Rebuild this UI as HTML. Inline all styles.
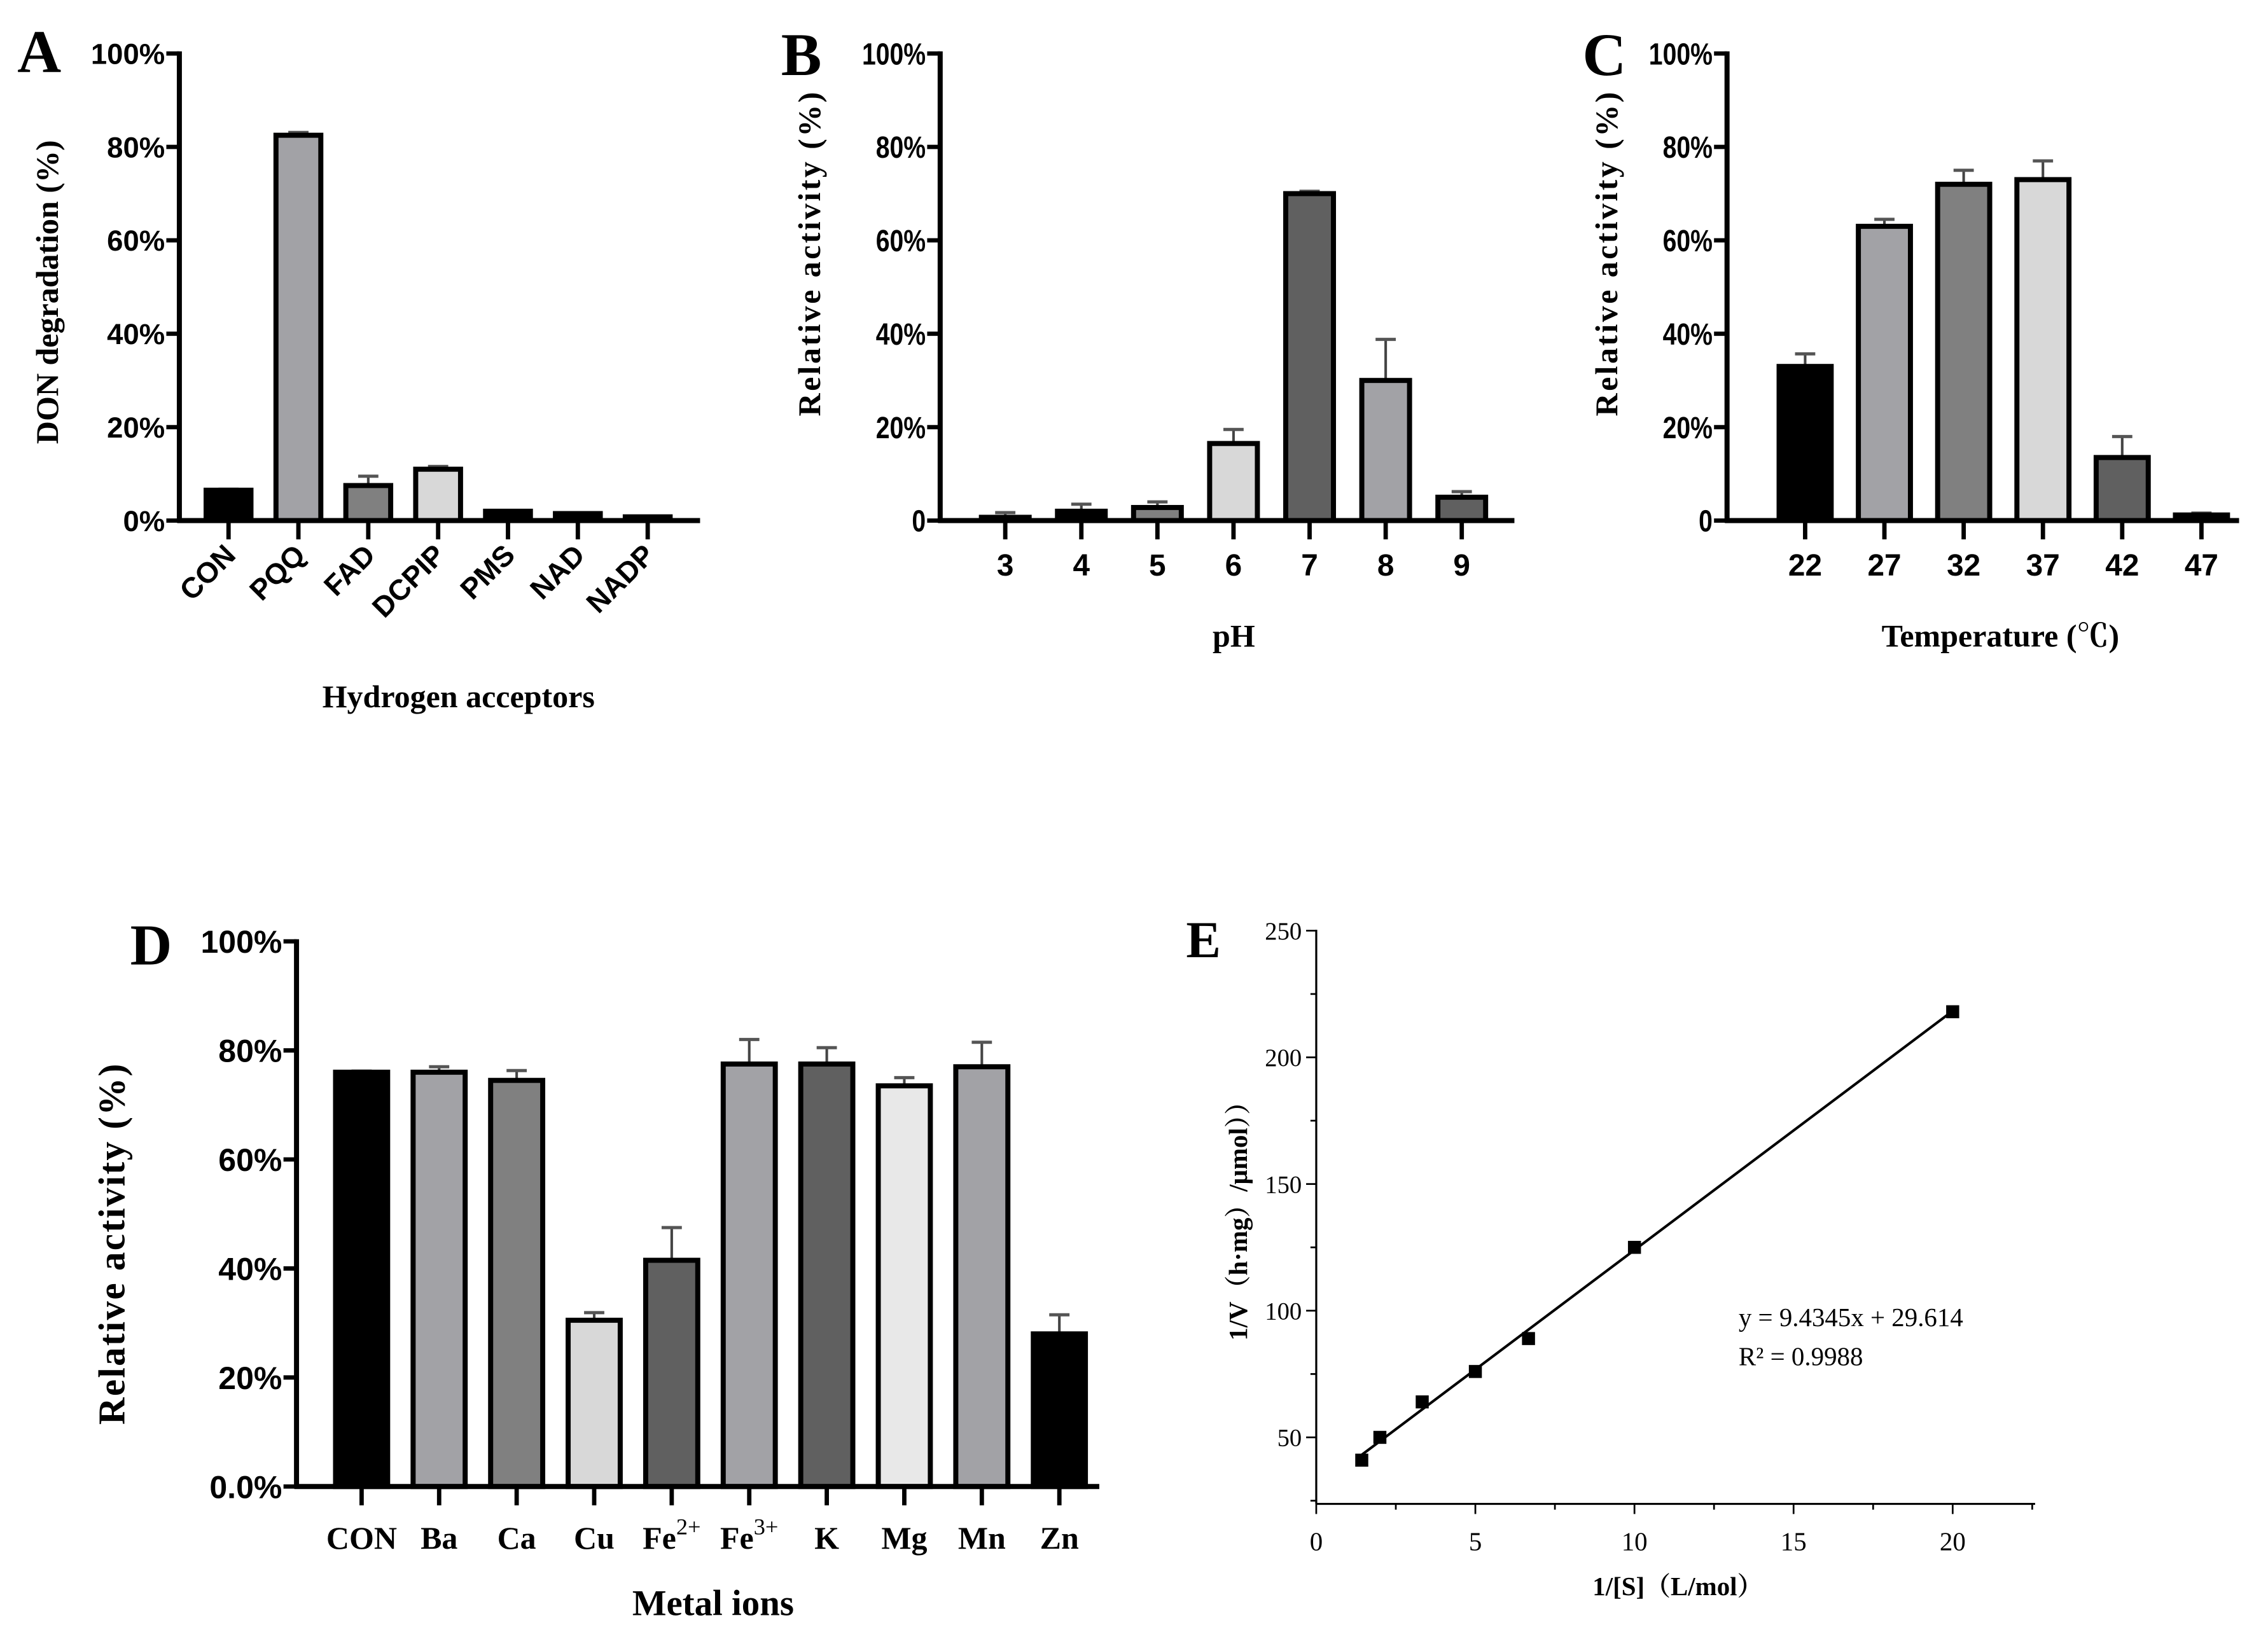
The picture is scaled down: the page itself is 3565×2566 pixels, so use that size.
<!DOCTYPE html>
<html><head><meta charset="utf-8"><style>
html,body{margin:0;padding:0;background:#fff}
svg{display:block}
.tk{font-family:"Liberation Sans",Arial,sans-serif;font-weight:bold}
.sr{font-family:"Liberation Serif","Noto Serif CJK SC",serif}
</style></head><body>
<svg id="fig" xmlns="http://www.w3.org/2000/svg" width="3565" height="2566" viewBox="0 0 1568 1128.6">
<rect width="1568" height="1128.6" fill="#fff"/>
<g id="root"></g>
</svg>
<script>
// Panel A data
const aCats = ["CON","PQQ","FAD","DCPIP","PMS","NAD","NADP"];
const aVals = [6.5, 82.5, 7.5, 11, 2, 1.5, 0.8];
const aErr  = [0.2, 0.6, 2, 0.6, 0, 0, 0];
// Panel B data
const bCats = ["3","4","5","6","7","8","9"];
const bVals = [0.7, 2, 2.8, 16.5, 70, 30, 5];
const bErr  = [1, 1.5, 1.2, 3, 0.5, 8.8, 1.2];
// Panel C data
const cCats = ["22","27","32","37","42","47"];
const cVals = [33, 63, 72, 73, 13.5, 1.2];
const cErr  = [2.7, 1.5, 3, 4, 4.5, 0.4];
// Panel D data
const dCats = ["CON","Ba","Ca","Cu","Fe2+","Fe3+","K","Mg","Mn","Zn"];
const dVals = [76, 76, 74.5, 30.5, 41.5, 77.5, 77.5, 73.5, 77, 28];
const dErr  = [0.2, 1, 1.8, 1.4, 6, 4.5, 3, 1.5, 4.5, 3.5];
// Panel E data
const eX = [1.43, 2, 3.33, 5, 6.67, 10, 20];
const eY = [41, 50, 64, 76, 89, 125, 218];
const eSlope = [9.4345];
const eIntercept = [29.614];
const eXTicks = [0, 5, 10, 15, 20];
const eYTicks = [50, 100, 150, 200, 250];
const pctTicks = [0, 20, 40, 60, 80, 100];

const NS = "http://www.w3.org/2000/svg";
const root = document.getElementById("root");
function mk(tag, attrs, parent, txt){
  const e = document.createElementNS(NS, tag);
  for (const k in attrs) e.setAttribute(k, attrs[k]);
  if (txt !== undefined) e.textContent = txt;
  (parent || root).appendChild(e);
  return e;
}

function barPanel(o){
  const g = mk("g", {});
  
  
  const y = v => o.y0 - (v/100)*(o.y0 - o.y100);
  const x = i => o.x0c + i*o.step;
  o.vals.forEach((v,i)=>{
    const top = y(v), hw = o.bw/2;
    const eb = mk("line",{x1:x(i),x2:x(i),y1:top,y2:y(v+o.err[i]),stroke:"#444","stroke-width":1.8},g);
    
    
    if (o.err[i] > 0){
      const cap = mk("line",{x1:x(i)-7,x2:x(i)+7,y1:y(v+o.err[i]),y2:y(v+o.err[i]),stroke:"#555","stroke-width":2.2},g);
      
      
    }
    const r = mk("rect",{x:x(i)-hw,y:top,width:o.bw,height:Math.max(o.y0-top,0.5),fill:o.colors[i],stroke:"#000","stroke-width":3.5},g);
    
    
    mk("line",{x1:x(i),x2:x(i),y1:o.y0,y2:o.y0+13,stroke:"#000","stroke-width":3},g);
  });
  const ya = mk("line",{x1:o.ax,x2:o.ax,y1:o.y100-1.5,y2:o.y0+1.5,stroke:"#000","stroke-width":3.5},g);
  
  
  const xa = mk("line",{x1:o.ax-1.5,x2:o.xEnd,y1:o.y0,y2:o.y0,stroke:"#000","stroke-width":3.5},g);
  
  
  pctTicks.forEach(t=>{
    mk("line",{x1:o.ax-9,x2:o.ax,y1:y(t),y2:y(t),stroke:"#000","stroke-width":3},g);
    const lbl = (t===0 && o.zeroLbl) ? o.zeroLbl : t + "%";
    const tt = mk("text",{x:o.ax-10,y:y(t)+o.tfs*0.36,"text-anchor":"end","font-size":o.tfs,class:"tk"},g,lbl);
    if (o.condensed) { tt.setAttribute("transform",`translate(${o.ax-10},0) scale(0.82,1) translate(${-(o.ax-10)},0)`); }
    
    
  });
  return {g, x, y};
}

// ---- Panel A
(function(){
  const P = barPanel({name:"panel-a-chart",cats:aCats,vals:aVals,err:aErr,
    colors:["#000","#a2a2a6","#808080","#d8d8d8","#000","#000","#000"],
    ax:124,y0:360,y100:37,x0c:158,step:48.3,bw:31,xEnd:484,tfs:20});
  aCats.forEach((c,i)=>{
    const t = mk("text",{x:P.x(i)+6,y:385,"text-anchor":"end","font-size":20,class:"tk",
      transform:`rotate(-45 ${P.x(i)+6} 385)`},P.g,c);
    
    
  });
  const xt = mk("text",{x:317,y:489,"text-anchor":"middle","font-size":22,"font-weight":"bold",class:"sr"},P.g,"Hydrogen acceptors");
  
  
  const yt = mk("text",{x:0,y:0,"text-anchor":"middle","font-size":22,"font-weight":"bold",class:"sr",transform:"translate(40,202) rotate(-90)"},P.g,"DON degradation (%)");
  
  
  const L = mk("text",{x:12,y:50,"font-size":42,"font-weight":"bold",class:"sr"},P.g,"A");
  
  
})();

// ---- Panel B
(function(){
  const P = barPanel({name:"panel-b-chart",cats:bCats,vals:bVals,err:bErr,
    colors:["#000","#000","#808080","#d8d8d8","#606060","#a2a2a6","#606060"],
    ax:650,y0:360,y100:37,x0c:695,step:52.6,bw:33,xEnd:1047,tfs:21,condensed:true,zeroLbl:"0"});
  bCats.forEach((c,i)=>{
    const t = mk("text",{x:P.x(i),y:398,"text-anchor":"middle","font-size":21,class:"tk"},P.g,c);
    
    
  });
  const xt = mk("text",{x:853,y:447,"text-anchor":"middle","font-size":22,"font-weight":"bold",class:"sr"},P.g,"pH");
  
  
  const yt = mk("text",{x:0,y:0,"text-anchor":"middle","font-size":22,"font-weight":"bold",class:"sr","letter-spacing":"1.5",transform:"translate(567,175) rotate(-90)"},P.g,"Relative activity (%)");
  
  
  const L = mk("text",{x:540,y:52,"font-size":42,"font-weight":"bold",class:"sr"},P.g,"B");
  
  
})();

// ---- Panel C
(function(){
  const P = barPanel({name:"panel-c-chart",cats:cCats,vals:cVals,err:cErr,
    colors:["#000","#a2a2a6","#808080","#d8d8d8","#606060","#000"],
    ax:1194,y0:360,y100:37,x0c:1248,step:54.8,bw:36,xEnd:1548,tfs:21,condensed:true,zeroLbl:"0"});
  cCats.forEach((c,i)=>{
    const t = mk("text",{x:P.x(i),y:398,"text-anchor":"middle","font-size":21,class:"tk"},P.g,c);
    
    
  });
  const xt = mk("text",{x:1383,y:447,"text-anchor":"middle","font-size":22,"font-weight":"bold",class:"sr"},P.g,"Temperature (℃)");
  
  
  const yt = mk("text",{x:0,y:0,"text-anchor":"middle","font-size":22,"font-weight":"bold",class:"sr","letter-spacing":"1.5",transform:"translate(1118,175) rotate(-90)"},P.g,"Relative activity (%)");
  
  
  const L = mk("text",{x:1094,y:52,"font-size":42,"font-weight":"bold",class:"sr"},P.g,"C");
  
  
})();

// ---- Panel D
(function(){
  const P = barPanel({name:"panel-d-chart",cats:dCats,vals:dVals,err:dErr,
    colors:["#000","#a2a2a6","#808080","#d8d8d8","#606060","#a2a2a6","#606060","#e8e8e8","#a2a2a6","#000"],
    ax:205,y0:1028,y100:651,x0c:250,step:53.6,bw:36,xEnd:760,tfs:22,zeroLbl:"0.0%"});
  dCats.forEach((c,i)=>{
    const base = c.replace(/[0-9]\+/,"");
    const sup = c.slice(base.length);
    const t = mk("text",{x:P.x(i),y:1071,"text-anchor":"middle","font-size":22,"font-weight":"bold",class:"sr"},P.g);
    
    
    mk("tspan",{},t,base);
    if (sup) mk("tspan",{dy:-10,"font-size":16,"font-weight":"normal"},t,sup);
  });
  const xt = mk("text",{x:493,y:1117,"text-anchor":"middle","font-size":25,"font-weight":"bold",class:"sr"},P.g,"Metal ions");
  
  
  const yt = mk("text",{x:0,y:0,"text-anchor":"middle","font-size":26,"font-weight":"bold",class:"sr","letter-spacing":"1",transform:"translate(86,860) rotate(-90)"},P.g,"Relative activity (%)");
  
  
  const L = mk("text",{x:90,y:667,"font-size":40,"font-weight":"bold",class:"sr"},P.g,"D");
  
  
})();

// ---- Panel E
(function(){
  const g = mk("g",{});
  
  
  const X0 = 910, XS = 22.0, Y50 = 994, YS = 87.6/50;
  const x = v => X0 + v*XS;
  const y = v => Y50 - (v-50)*YS;
  const axY = 1040, axR = 1407, axT = 643;
  mk("line",{x1:X0,x2:X0,y1:axT,y2:axY,stroke:"#000","stroke-width":1.4},g);
  mk("line",{x1:X0,x2:axR,y1:axY,y2:axY,stroke:"#000","stroke-width":1.4},g);
  for (let v=0; x(v)<=axR+0.5; v+=2.5){
    const major = (v % 5 === 0);
    mk("line",{x1:x(v),x2:x(v),y1:axY,y2:axY+(major?7:4),stroke:"#000","stroke-width":1.2},g);
  }
  for (let v=25; y(v)>=axT-0.5; v+=25){
    const major = (v % 50 === 0);
    if (y(v) < axY) mk("line",{x1:X0,x2:X0-(major?7:4),y1:y(v),y2:y(v),stroke:"#000","stroke-width":1.2},g);
  }
  eXTicks.forEach(v=>{
    const t = mk("text",{x:x(v),y:1072,"text-anchor":"middle","font-size":18,class:"sr"},g,String(v));
    
    
  });
  eYTicks.forEach(v=>{
    const t = mk("text",{x:X0-10,y:y(v)+6,"text-anchor":"end","font-size":17,class:"sr"},g,String(v));
    
    
  });
  const xmin = Math.min(...eX), xmax = Math.max(...eX);
  const fit = mk("line",{x1:x(xmin),y1:y(eSlope[0]*xmin+eIntercept[0]),x2:x(xmax),y2:y(eSlope[0]*xmax+eIntercept[0]),stroke:"#000","stroke-width":1.8},g);
  
  
  eX.forEach((v,i)=>{
    const p = mk("rect",{x:x(v)-4.5,y:y(eY[i])-4.5,width:9,height:9,fill:"#000"},g);
    
    
  });
  const eq = mk("text",{x:1202,y:917,"font-size":18,class:"sr"},g,"y = 9.4345x + 29.614");
  
  
  const r2 = mk("text",{x:1202,y:944,"font-size":18,class:"sr"},g,"R² = 0.9988");
  
  
  const xt = mk("text",{x:1160,y:1103,"text-anchor":"middle","font-size":18,"font-weight":"bold",class:"sr"},g,"1/[S]（L/mol）");
  
  
  const yt = mk("text",{x:0,y:0,"text-anchor":"middle","font-size":18,"font-weight":"bold",class:"sr",transform:"translate(862,840) rotate(-90)"},g,"1/V（h·mg）/μmol））");
  
  
  const L = mk("text",{x:820,y:662,"font-size":36,"font-weight":"bold",class:"sr"},g,"E");
  
  
})();
</script>
</body></html>
